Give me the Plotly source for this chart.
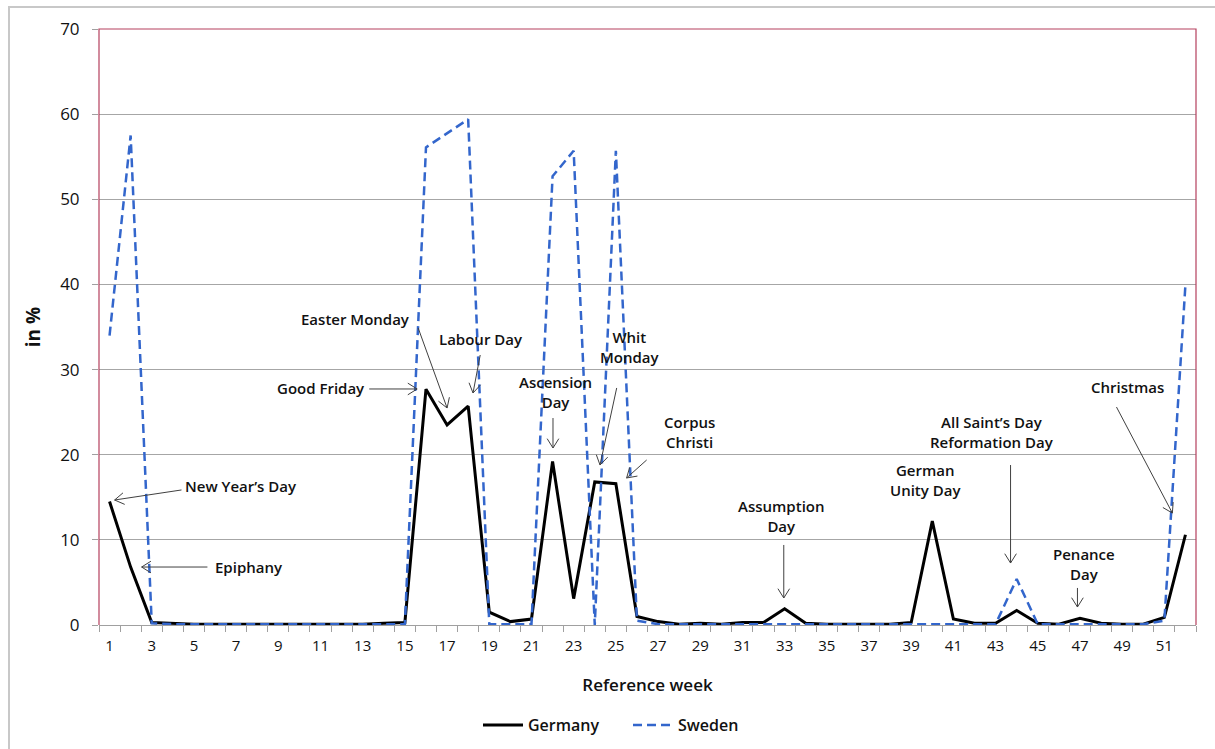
import math
import plotly.graph_objects as go

# Share of holiday-affected reference weeks, in %
weeks = list(range(1, 53))
germany = [14.5, 6.8, 0.3, 0.2, 0.1, 0.1, 0.1, 0.1, 0.1, 0.1, 0.1, 0.1, 0.1, 0.2, 0.3,
           27.7, 23.5, 25.7, 1.5, 0.4, 0.7, 19.2, 3.1, 16.8, 16.6, 1.0, 0.4, 0.1, 0.2, 0.1,
           0.3, 0.3, 1.9, 0.2, 0.1, 0.1, 0.1, 0.1, 0.3, 12.2, 0.7, 0.2, 0.2, 1.7, 0.2,
           0.1, 0.8, 0.2, 0.1, 0.1, 0.9, 10.6]
sweden = [34.0, 57.5, 0.2, 0.1, 0.1, 0.1, 0.1, 0.1, 0.1, 0.1, 0.1, 0.1, 0.1, 0.1, 0.1,
          56.1, 57.8, 59.4, 0.1, 0.1, 0.1, 52.7, 55.7, 0.0, 55.7, 0.5, 0.1, 0.1, 0.1, 0.1,
          0.1, 0.1, 0.1, 0.1, 0.1, 0.1, 0.1, 0.1, 0.1, 0.1, 0.1, 0.1, 0.1, 5.4, 0.1,
          0.1, 0.1, 0.1, 0.1, 0.1, 0.5, 40.0]
tick_weeks = list(range(1, 53, 2))
y_ticks = [0, 10, 20, 30, 40, 50, 60, 70]

# Holiday labels: (text, x, y, xanchor)
labels = [
    ("New Year’s Day", 4.50, 16.3, "left"),
    ("Epiphany", 5.92, 6.8, "left"),
    ("Good Friday", 13.22, 27.8, "right"),
    ("Easter Monday", 12.65, 35.9, "center"),
    ("Labour Day", 18.61, 33.6, "center"),
    ("Ascension<br>Day", 22.12, 27.4, "center"),
    ("Whit<br>Monday", 25.67, 32.6, "center"),
    ("Corpus<br>Christi", 28.51, 22.7, "center"),
    ("Assumption<br>Day", 32.87, 12.8, "center"),
    ("German<br>Unity Day", 39.68, 17.0, "center"),
    ("All Saint’s Day<br>Reformation Day", 42.81, 22.7, "center"),
    ("Penance<br>Day", 47.21, 7.2, "center"),
    ("Christmas", 49.25, 27.95, "center"),
]
# Pointer arrows: (tail x, tail y, head x, head y)
pointers = [
    (4.41, 15.86, 1.24, 14.68),
    (5.64, 6.81, 2.52, 6.81),
    (13.31, 27.72, 15.58, 27.72),
    (15.63, 34.88, 17.0, 25.49),
    (18.57, 31.71, 18.23, 27.25),
    (22.02, 24.31, 22.02, 20.79),
    (25.04, 27.84, 24.25, 18.79),
    (26.46, 19.38, 25.51, 17.27),
    (32.96, 9.40, 32.96, 3.17),
    (43.71, 18.79, 43.71, 7.28),
    (46.88, 4.35, 46.88, 2.11),
    (48.73, 25.6, 51.38, 13.15),
]

W, H = 1215, 749
ML, MR, MT, MB = 99, 19, 29, 124
X_RANGE = (0.5, 52.5)
Y_RANGE = (0, 70)
sx = (W - ML - MR) / (X_RANGE[1] - X_RANGE[0])
sy = (H - MT - MB) / (Y_RANGE[1] - Y_RANGE[0])

FONT = "Open Sans"
ARROW = "#404040"

fig = go.Figure()
fig.add_trace(go.Scatter(x=weeks, y=germany, name="Germany", mode="lines",
                         line=dict(color="black", width=3)))
fig.add_trace(go.Scatter(x=weeks, y=sweden, name="Sweden", mode="lines",
                         line=dict(color="#3366cc", width=2.5, dash="9px,5px")))

shapes = []
# Plot-area frame on the left, top and right
shapes.append(dict(type="path", xref="paper", yref="paper",
                   path="M 0 0 L 0 1 L 1 1 L 1 0",
                   line=dict(color="#b5405e", width=1.2)))
# Outer chart border
shapes.append(dict(type="rect", xref="paper", yref="paper",
                   x0=(9 - ML) / (W - ML - MR), x1=1.05,
                   y0=-0.3, y1=(H - MB - 7) / (H - MT - MB),
                   line=dict(color="#c8c8c8", width=2)))

for tx, ty, hx, hy in pointers:
    shapes.append(dict(type="line", x0=tx, y0=ty, x1=hx, y1=hy,
                       line=dict(color=ARROW, width=1)))
    dx = (hx - tx) * sx
    dy = (hy - ty) * sy
    ang = math.atan2(dy, dx)
    for s in (1, -1):
        a = ang + math.pi + s * math.radians(32)
        wx = hx + 11 * math.cos(a) / sx
        wy = hy + 11 * math.sin(a) / sy
        shapes.append(dict(type="line", x0=hx, y0=hy, x1=wx, y1=wy,
                           line=dict(color=ARROW, width=1)))

annotations = [dict(text=t, x=x, y=y, xanchor=xa, yanchor="middle", showarrow=False,
                    font=dict(family=FONT, size=15, color="#111", weight=600),
                    align="center")
               for t, x, y, xa in labels]

fig.update_layout(
    width=W, height=H,
    margin=dict(l=ML, r=MR, t=MT, b=MB, autoexpand=False),
    paper_bgcolor="white", plot_bgcolor="white",
    font=dict(family=FONT, color="#111"),
    shapes=shapes, annotations=annotations,
    showlegend=True,
    legend=dict(orientation="h", xref="container", x=478 / W, xanchor="left",
                yref="container", y=1 - 725 / H, yanchor="middle",
                font=dict(family=FONT, size=16, weight=600), itemwidth=40,
                entrywidth=95, entrywidthmode="pixels", tracegroupgap=0),
    xaxis=dict(range=list(X_RANGE), tickmode="array", tickvals=tick_weeks,
               ticktext=[str(w) for w in tick_weeks], ticks="", showgrid=False,
               showline=True, linecolor="#a0a0a0", linewidth=1, zeroline=False,
               automargin=False, ticklabelstandoff=7,
               tickfont=dict(family=FONT, size=15),
               minor=dict(ticks="outside", tick0=0.5, dtick=1, ticklen=6,
                          tickcolor="#a0a0a0", showgrid=False),
               title=dict(text="Reference week", standoff=25,
                          font=dict(family=FONT, size=17, weight=600))),
    yaxis=dict(range=list(Y_RANGE), tickvals=y_ticks, showgrid=True,
               gridcolor="#a6a6a6", gridwidth=1, zeroline=False,
               ticks="outside", ticklen=6, tickcolor="#a0a0a0",
               showline=False, automargin=False, ticklabelstandoff=9,
               tickfont=dict(family=FONT, size=17),
               title=dict(text="in %", standoff=14,
                          font=dict(family=FONT, size=19, weight=700))),
)

fig.write_html("out.html")
